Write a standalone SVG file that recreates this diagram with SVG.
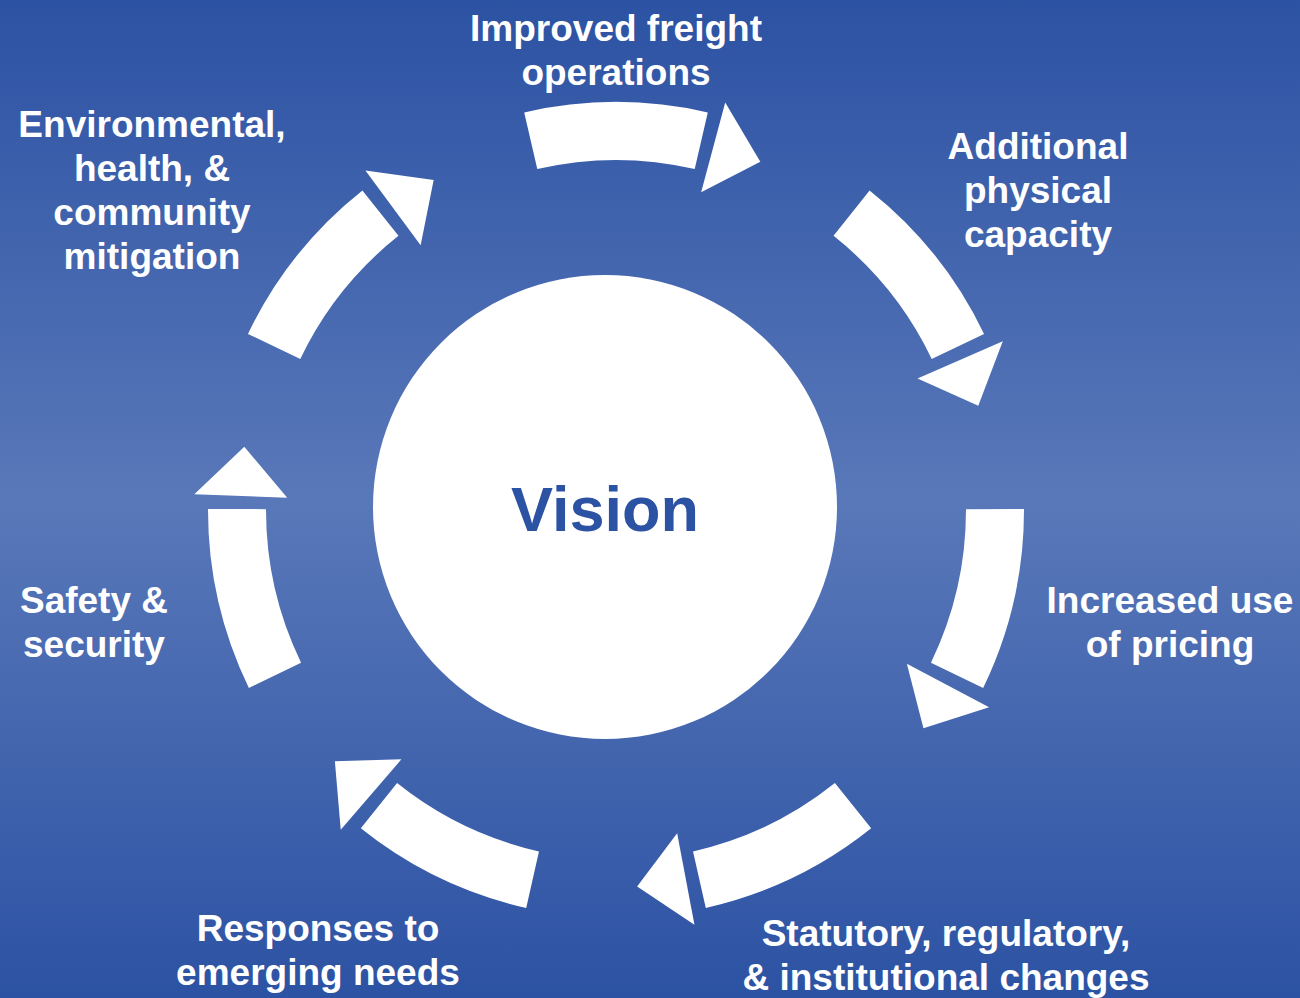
<svg xmlns="http://www.w3.org/2000/svg" xmlns:xlink="http://www.w3.org/1999/xlink" width="1300" height="998" viewBox="0 0 1300 998">
  <defs>
    <linearGradient id="bg" x1="0" y1="0" x2="0" y2="1">
      <stop offset="0" stop-color="#2c52a3"/>
      <stop offset="0.5" stop-color="#5978b9"/>
      <stop offset="1" stop-color="#2c52a3"/>
    </linearGradient>
    <g id="seg">
      <path d="M 524.22 112.46 A 408 408 0 0 1 707.78 112.46 L 694.73 168.97 A 350 350 0 0 0 537.27 168.97 Z"/>
      <polygon points="725.22,102.38 760.3,161.7 701.15,192.21"/>
    </g>
    <style>
      .lbl { font-family: "Liberation Sans", Arial, sans-serif; font-weight: bold; font-size: 37px; fill: #ffffff; text-anchor: middle; }
      .seg { fill: #ffffff; }
    </style>
  </defs>
  <rect width="1300" height="998" fill="url(#bg)"/>
  <g id="connectors" class="seg">
    <use xlink:href="#seg"/>
    <use xlink:href="#seg" transform="rotate(51.4286 616 510)"/>
    <use xlink:href="#seg" transform="rotate(102.8571 616 510)"/>
    <use xlink:href="#seg" transform="rotate(154.2857 616 510)"/>
    <use xlink:href="#seg" transform="rotate(205.7143 616 510)"/>
    <use xlink:href="#seg" transform="rotate(257.1429 616 510)"/>
    <use xlink:href="#seg" transform="rotate(308.5714 616 510)"/>
  </g>
  <g id="vision">
    <circle cx="605" cy="507" r="232" fill="#ffffff"/>
    <text x="605" y="531" font-family="Liberation Sans, Arial, sans-serif" font-weight="bold" font-size="63" fill="#2b52a3" text-anchor="middle">Vision</text>
  </g>
  <g id="improved-freight">
    <text class="lbl" x="616" y="41">Improved freight</text>
    <text class="lbl" x="616" y="85">operations</text>
  </g>
  <g id="additional-capacity">
    <text class="lbl" x="1038" y="159">Additional</text>
    <text class="lbl" x="1038" y="203">physical</text>
    <text class="lbl" x="1038" y="247">capacity</text>
  </g>
  <g id="pricing">
    <text class="lbl" x="1170" y="613">Increased use</text>
    <text class="lbl" x="1170" y="657">of pricing</text>
  </g>
  <g id="statutory">
    <text class="lbl" x="946" y="946">Statutory, regulatory,</text>
    <text class="lbl" x="946" y="990">&amp; institutional changes</text>
  </g>
  <g id="responses">
    <text class="lbl" x="318" y="941">Responses to</text>
    <text class="lbl" x="318" y="985">emerging needs</text>
  </g>
  <g id="safety">
    <text class="lbl" x="94" y="613">Safety &amp;</text>
    <text class="lbl" x="94" y="657">security</text>
  </g>
  <g id="environmental">
    <text class="lbl" x="152" y="137">Environmental,</text>
    <text class="lbl" x="152" y="181">health, &amp;</text>
    <text class="lbl" x="152" y="225">community</text>
    <text class="lbl" x="152" y="269">mitigation</text>
  </g>
</svg>
